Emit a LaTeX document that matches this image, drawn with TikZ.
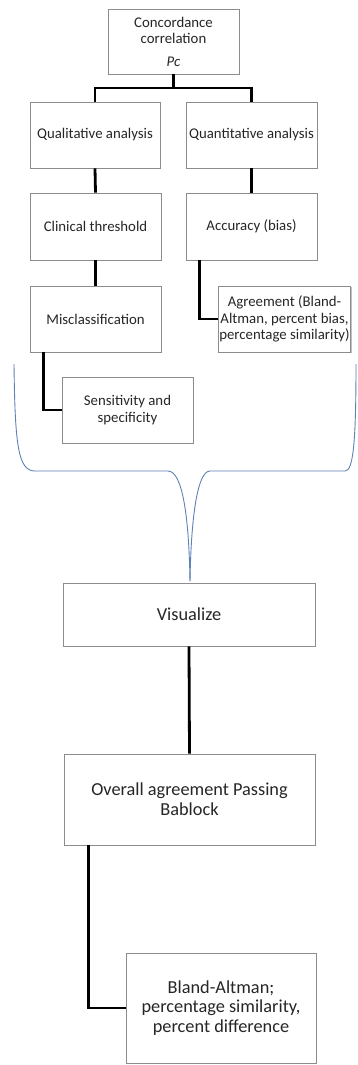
\documentclass[tikz,border=0pt]{standalone}
\usepackage{fontspec}
\setmainfont{Carlito}
\usetikzlibrary{shadows}
\definecolor{bracecol}{RGB}{95,130,180}
\tikzset{
  box/.style={draw=black!45, fill=white, line width=0.8pt, align=center, text=black!85, inner sep=1pt,
    drop shadow={shadow xshift=1pt, shadow yshift=-1.2pt, fill=black!40, opacity=0.6}},
  small/.style={box, font=\fontsize{14.8}{16.5}\selectfont},
  big/.style={box, font=\fontsize{18.3}{19.8}\selectfont},
  conn/.style={draw=black, line width=2.8pt},
  bracestyle/.style={draw=bracecol, line width=0.9pt}
}
\begin{document}
\begin{tikzpicture}[x=1pt, y=-1pt]
\useasboundingbox (0,0) rectangle (357,1065);
\fill[white] (0,0) rectangle (357,1065);
\node[small, minimum width=131pt, minimum height=65pt] (top) at (173.5,41.5) {Concordance\\correlation\\[6pt]\textit{Pc}};
\node[small, minimum width=130pt, minimum height=66pt] (qual) at (95,135) {Qualitative analysis};
\node[small, minimum width=131pt, minimum height=66pt] (quant) at (251.5,135) {Quantitative analysis};
\node[small, minimum width=131pt, minimum height=67pt] (clin) at (95.5,226.5) {Clinical threshold};
\node[small, minimum width=131pt, minimum height=67pt] (acc) at (251.5,226.5) {Accuracy (bias)};
\node[small, minimum width=131pt, minimum height=66pt] (mis) at (95.5,319) {Misclassification};
\node[small, minimum width=131pt, minimum height=66pt] (agr) at (284.5,319) {Agreement (Bland-\\Altman, percent bias,\\percentage similarity)};
\node[small, minimum width=131pt, minimum height=66pt] (sens) at (127.5,410) {Sensitivity and\\specificity};
\node[big, minimum width=252pt, minimum height=63pt] (vis) at (189,614.5) {Visualize};
\node[big, minimum width=251pt, minimum height=91pt] (over) at (189.5,799.5) {Overall agreement Passing\\Bablock};
\node[big, minimum width=190pt, minimum height=110pt] (bland) at (221,1008) {Bland-Altman;\\percentage similarity,\\percent difference};

\coordinate (j) at (173.5,88);
\draw[conn] (top.south) -- (j);
\draw[conn] (j) -| (qual.north);
\draw[conn] (j) -| (quant.north);
\draw[conn] (qual.south) -- (clin.north);
\draw[conn] (quant.south) -- (acc.north);
\draw[conn] (clin.south) -- (mis.north);
\draw[conn] ([xshift=14pt]acc.south west) |- (agr.west);
\draw[conn] ([xshift=14pt]mis.south west) |- (sens.west);
\draw[conn] (vis.south) -- (over.north);
\draw[conn] ([xshift=25pt]over.south west) |- (bland.west);

\draw[bracestyle] (14,364) .. controls (15,445) and (18,471) .. (35,471) -- (168,471) .. controls (183,471) and (189,520) .. (190,581);
\draw[bracestyle] (356,364) .. controls (356,445) and (353,471) .. (345,471) -- (210,471) .. controls (197,471) and (191,520) .. (190,581);
\end{tikzpicture}
\end{document}
